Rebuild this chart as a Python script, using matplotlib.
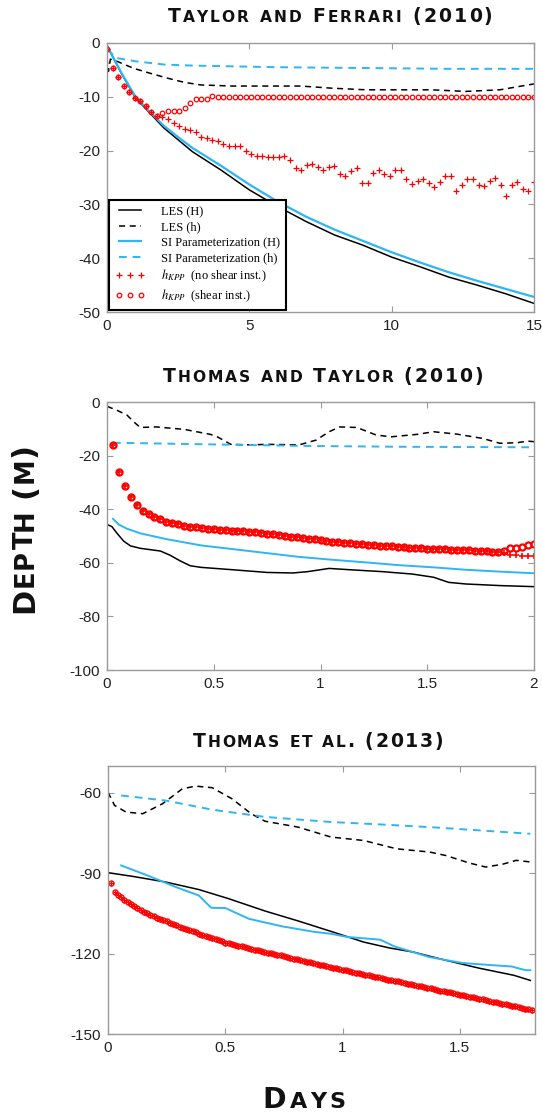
import numpy as np
import matplotlib
matplotlib.use('Agg')
import matplotlib.pyplot as plt
from matplotlib.font_manager import FontProperties

plt.rcParams['font.family'] = 'Liberation Sans'
plt.rcParams['mathtext.fontset'] = 'stix'
plt.rcParams['axes.unicode_minus'] = False

BLUE = '#2DB5F5'
RED = '#FF0000'

# ---------------- Taylor and Ferrari (2010) ----------------
tf_les_H_t = [0, 0.5, 1, 1.5, 2, 2.5, 3, 4, 5, 6, 7, 8, 9, 10, 11, 12, 13, 14, 15]
tf_les_H = [-0.5, -5.6, -10.2, -13.0, -15.8, -18.0, -20.2, -23.6, -27.3, -30.4, -33.2,
            -35.7, -37.6, -39.8, -41.6, -43.5, -45.0, -46.6, -48.4]
tf_si_H = [-0.5, -5.5, -10.0, -12.8, -15.4, -17.5, -19.5, -22.8, -26.3, -29.5, -32.3,
           -34.7, -36.8, -38.9, -40.8, -42.6, -44.2, -45.7, -47.2]
tf_les_h_t = [0, 0.05, 0.12, 0.35, 0.93, 1.5, 2.1, 2.7, 3.3, 4.4, 5.6, 6.8, 7.9, 9.1,
              10.3, 11.4, 12.6, 13.8, 15]
tf_les_h = [-2.8, -5.3, -3.0, -3.4, -4.7, -5.6, -6.5, -7.3, -7.8, -8.0, -8.0, -8.0, -8.4,
            -8.7, -8.7, -8.7, -9.0, -8.7, -7.6]
tf_si_h_t = [0, 0.35, 1, 2, 3, 4, 6, 8, 10, 12, 15]
tf_si_h = [-1.2, -2.8, -3.4, -4.0, -4.2, -4.3, -4.5, -4.6, -4.7, -4.8, -4.8]
tf_kpp_t = np.linspace(0, 15, 78)
tf_kpp_shear = [-1.2, -4.7, -6.4, -8.0, -9.2, -10.2, -10.7, -11.7, -12.9, -13.5,
                -13.0, -12.6, -12.6, -12.6, -12.1, -11.2, -10.4, -10.4, -10.4, -9.9,
                -10.0, -10.0, -10.0, -10.0, -10.0, -10.0, -10.0, -10.0, -10.0, -10.0,
                -10.0, -10.0, -10.0, -10.0, -10.0, -10.0, -10.0, -10.0, -10.0, -10.0,
                -10.0, -10.0, -10.0, -10.0, -10.0, -10.0, -10.0, -10.0, -10.0, -10.0,
                -10.0, -10.0, -10.0, -10.0, -10.0, -10.0, -10.0, -10.0, -10.0, -10.0,
                -10.0, -10.0, -10.0, -10.0, -10.0, -10.0, -10.0, -10.0, -10.0, -10.0,
                -10.0, -10.0, -10.0, -10.0, -10.0, -10.0, -10.0, -10.0]
tf_kpp_noshear = [-1.2, -4.7, -6.4, -8.0, -9.2, -10.2, -10.7, -11.7, -12.9, -13.5,
                  -13.7, -14.2, -14.9, -15.4, -16.0, -16.1, -16.5, -17.4, -17.7, -18.0,
                  -18.2, -18.8, -19.1, -19.1, -19.1, -20.0, -20.6, -21.0, -21.0, -21.1,
                  -21.1, -21.1, -21.0, -21.7, -23.3, -23.6, -22.7, -22.4, -23.0, -23.6,
                  -23.0, -22.9, -24.3, -24.8, -23.7, -23.3, -26.0, -26.0, -24.2, -23.6,
                  -24.3, -24.7, -23.6, -23.6, -25.2, -26.2, -25.6, -25.2, -26.1, -26.8,
                  -25.8, -24.7, -24.7, -27.6, -26.4, -25.3, -25.3, -26.4, -26.6, -25.6,
                  -25.0, -26.4, -28.4, -26.4, -25.8, -27.2, -27.5, -25.8]

# ---------------- Thomas and Taylor (2010) ----------------
tt_les_H_t = [0, 0.023, 0.047, 0.078, 0.11, 0.156, 0.25, 0.296, 0.343, 0.39, 0.44, 0.59,
              0.75, 0.87, 0.94, 1.04, 1.14, 1.29, 1.43, 1.53, 1.6, 1.68, 1.84, 2.0]
tt_les_H = [-45.7, -46.5, -49.0, -51.9, -53.7, -54.6, -55.6, -57.2, -59.3, -61.1, -61.7,
            -62.6, -63.6, -63.8, -63.3, -62.1, -62.6, -63.3, -64.2, -65.4, -67.3, -67.9,
            -68.5, -68.9]
tt_si_H_t = [0.028, 0.055, 0.094, 0.156, 0.28, 0.44, 0.59, 0.75, 0.9, 1.06, 1.22, 1.37,
             1.53, 1.68, 1.84, 2.0]
tt_si_H = [-43.6, -45.7, -47.3, -49.0, -51.2, -53.5, -54.9, -56.4, -57.8, -58.9, -59.9,
           -60.9, -61.7, -62.6, -63.3, -63.9]
tt_les_h_t = [0, 0.047, 0.094, 0.125, 0.156, 0.23, 0.36, 0.48, 0.51, 0.58, 0.67, 0.75,
              0.9, 0.98, 1.04, 1.09, 1.17, 1.26, 1.33, 1.45, 1.53, 1.64, 1.76, 1.84,
              1.92, 1.97, 2.0]
tt_les_h = [-1.6, -3.1, -4.9, -7.4, -9.5, -9.3, -10.2, -12.0, -12.7, -15.8, -16.0, -15.8,
            -16.0, -14.2, -11.1, -9.3, -9.5, -12.3, -13.0, -12.1, -11.1, -12.0, -13.6,
            -15.4, -15.2, -14.6, -14.8]
tt_si_h_t = [0.028, 0.47, 0.94, 1.37, 2.0]
tt_si_h = [-15.2, -15.8, -16.4, -16.7, -16.9]
tt_kpp_t = np.linspace(2 / 72, 2, 72)
tt_kpp_shear = [-16.0, -26.2, -31.5, -35.6, -38.6, -40.5, -41.7, -42.8, -43.6, -44.6,
                -45.2, -45.7, -46.2, -46.5, -46.8, -47.0, -47.3, -47.5, -47.7, -47.8,
                -48.0, -48.2, -48.3, -48.5, -48.6, -48.8, -49.1, -49.4, -49.6, -49.9,
                -50.2, -50.5, -50.8, -51.1, -51.3, -51.6, -51.8, -52.1, -52.3, -52.5,
                -52.7, -52.9, -53.1, -53.3, -53.4, -53.6, -53.7, -53.9, -54.0, -54.2,
                -54.3, -54.4, -54.5, -54.7, -54.8, -54.9, -55.0, -55.1, -55.2, -55.3,
                -55.4, -55.5, -55.6, -55.7, -55.9, -56.0,
                -55.6, -54.6, -54.3, -54.0, -53.3, -52.8]
tt_kpp_noshear = tt_kpp_shear[:66] + [-56.4, -57.0, -57.2, -57.3, -57.4, -57.5]

# ---------------- Thomas et al. (2013) ----------------
te_les_H_t = [0, 0.106, 0.246, 0.387, 0.514, 0.669, 0.81, 0.95, 1.09, 1.2, 1.3, 1.44,
              1.58, 1.73, 1.8]
te_les_H = [-89.8, -91.2, -93.3, -96.1, -99.5, -104.1, -107.8, -111.7, -115.7, -117.9,
            -119.4, -122.5, -125.4, -128.1, -130.0]
te_si_H_t = [0.056, 0.176, 0.29, 0.387, 0.44, 0.5, 0.6, 0.74, 0.88, 0.95, 1.02, 1.16,
             1.22, 1.37, 1.51, 1.65, 1.72, 1.78, 1.8]
te_si_H = [-87.1, -91.1, -95.2, -98.3, -102.9, -103.0, -107.0, -109.8, -111.9, -112.6,
           -113.8, -114.8, -117.3, -121.3, -123.5, -124.4, -124.8, -126.2, -126.2]
te_les_h_t = [0, 0.028, 0.077, 0.148, 0.232, 0.317, 0.373, 0.444, 0.528, 0.61, 0.669,
              0.81, 0.95, 1.09, 1.23, 1.37, 1.44, 1.54, 1.61, 1.68, 1.74, 1.8]
te_les_h = [-59.8, -64.7, -67.2, -67.8, -64.1, -58.5, -57.5, -58.1, -62.2, -67.8, -70.6,
            -72.8, -76.5, -77.8, -80.9, -82.1, -83.4, -86.2, -87.7, -86.7, -85.2, -85.8]
te_si_h_t = [0.056, 0.246, 0.444, 0.669, 0.95, 1.16, 1.37, 1.58, 1.8]
te_si_h = [-61.0, -62.9, -66.3, -69.0, -70.9, -71.8, -72.8, -74.0, -75.3]
te_kpp_t = np.linspace(1 / 72, 130 / 72, 130)
te_kpp = [-93.8, -96.9, -98.2, -99.0, -99.9, -100.7, -101.5, -102.3, -103.0, -103.7,
          -104.4, -105.0, -105.6, -106.1, -106.6, -107.1, -107.6, -108.0, -108.5, -109.0,
          -109.4, -109.9, -110.4, -110.8, -111.3, -111.7, -112.1, -112.6, -113.0, -113.4,
          -113.8, -114.2, -114.6, -115.0, -115.4, -115.9, -116.2, -116.5, -116.8, -117.0,
          -117.3, -117.6, -117.9, -118.2, -118.5, -118.8, -119.0, -119.3, -119.6, -119.9,
          -120.2, -120.5, -120.7, -121.0, -121.3, -121.6, -121.9, -122.2, -122.4, -122.7,
          -123.0, -123.3, -123.6, -123.9, -124.2, -124.4, -124.7, -125.0, -125.3, -125.5,
          -125.8, -126.1, -126.3, -126.6, -126.8, -127.1, -127.3, -127.6, -127.9, -128.1,
          -128.4, -128.6, -128.9, -129.1, -129.4, -129.7, -129.9, -130.2, -130.4, -130.7,
          -130.9, -131.2, -131.5, -131.7, -132.0, -132.2, -132.5, -132.7, -133.0, -133.3,
          -133.5, -133.8, -134.0, -134.3, -134.5, -134.8, -135.1, -135.3, -135.6, -135.8,
          -136.1, -136.3, -136.6, -136.9, -137.1, -137.4, -137.6, -137.9, -138.1, -138.4,
          -138.7, -138.9, -139.2, -139.4, -139.7, -139.9, -140.2, -140.5, -140.7, -141.0]

W, H = 542, 1113
fig = plt.figure(figsize=(W / 100, H / 100), dpi=100)


def small_caps(x_c, y_b, s, big, small, width, rotation=0):
    # fake small caps, letter by letter, spread to a given width (pixels)
    r = fig.canvas.get_renderer()

    def adv(c, size):
        fp = FontProperties(family='DejaVu Sans', weight='bold', size=size)
        w1 = r.get_text_width_height_descent('H' + c + 'H', fp, ismath=False)[0]
        w0 = r.get_text_width_height_descent('HH', fp, ismath=False)[0]
        return w1 - w0

    chars = [(c.upper(), small if c.islower() else big) for c in s]
    advs = [adv(c, sz) for c, sz in chars]
    track = (width - sum(advs)) / (len(chars) - 1)
    pos = -width / 2
    for (c, sz), a in zip(chars, advs):
        if c != ' ':
            if rotation == 0:
                fig.text((x_c + pos) / W, 1 - y_b / H, c, fontsize=sz, fontweight='bold',
                         family='DejaVu Sans', ha='left', va='baseline', color='#111111')
            else:
                fig.text(x_c / W, 1 - (y_b - pos) / H, c, fontsize=sz, fontweight='bold',
                         family='DejaVu Sans', ha='left', va='baseline', rotation=90,
                         rotation_mode='anchor', color='#111111')
        pos += a + track


def style(ax, xlim, ylim, xticks, yticks):
    ax.set_xlim(*xlim)
    ax.set_ylim(*ylim)
    ax.set_xticks(xticks)
    ax.set_yticks(yticks)
    ax.set_xticklabels([('%g' % v) for v in xticks])
    ax.set_yticklabels([('%g' % v) for v in yticks])
    ax.tick_params(direction='in', top=True, right=True, length=4, width=0.8,
                   color='#9a9a9a', labelsize=11, labelcolor='#222222', pad=5)
    for sp in ax.spines.values():
        sp.set_color('#9a9a9a')
        sp.set_linewidth(1.0)


# panel 1
ax1 = fig.add_axes([107 / W, 1 - 312 / H, 427 / W, 269 / H])
ax1.plot(tf_les_H_t, tf_les_H, color='black', lw=1.1, label='LES (H)')
ax1.plot(tf_les_h_t, tf_les_h, color='black', lw=1.1, ls=(0, (4, 3)), label='LES (h)')
ax1.plot(tf_les_H_t, tf_si_H, color=BLUE, lw=1.6, label='SI Parameterization (H)')
ax1.plot(tf_si_h_t, tf_si_h, color=BLUE, lw=1.4, ls=(0, (4, 3)), label='SI Parameterization (h)')
ax1.plot(tf_kpp_t, tf_kpp_noshear, ls='none', marker='+', ms=4, mew=0.9, color=RED,
         label=r'$h_{KPP}$  (no shear inst.)')
ax1.plot(tf_kpp_t, tf_kpp_shear, ls='none', marker='o', ms=3.3, mew=0.9, mfc='none',
         mec=RED, label=r'$h_{KPP}$  (shear inst.)')
style(ax1, (0, 15), (-50, 0), [0, 5, 10, 15], [-50, -40, -30, -20, -10, 0])
leg = ax1.legend(loc='lower left', bbox_to_anchor=(0.005, 0.008), borderaxespad=0,
                 prop=FontProperties(family='Liberation Serif', size=9), numpoints=3,
                 fancybox=False, framealpha=1, edgecolor='black', handlelength=2.4,
                 handletextpad=1.3, labelspacing=0.28, borderpad=0.45)
leg.get_frame().set_linewidth(1.5)

# panel 2
ax2 = fig.add_axes([107 / W, 1 - 670 / H, 427 / W, 268 / H])
ax2.plot(tt_les_H_t, tt_les_H, color='black', lw=1.1)
ax2.plot(tt_les_h_t, tt_les_h, color='black', lw=1.1, ls=(0, (4, 3)))
ax2.plot(tt_si_H_t, tt_si_H, color=BLUE, lw=1.4)
ax2.plot(tt_si_h_t, tt_si_h, color=BLUE, lw=1.4, ls=(0, (4, 3)))
ax2.plot(tt_kpp_t, tt_kpp_noshear, ls='none', marker='+', ms=4.5, mew=1.2, color=RED)
ax2.plot(tt_kpp_t, tt_kpp_shear, ls='none', marker='o', ms=4.4, mew=1.6, mfc='none', mec=RED)
style(ax2, (0, 2), (-100, 0), [0, 0.5, 1, 1.5, 2], [-100, -80, -60, -40, -20, 0])

# panel 3
ax3 = fig.add_axes([108 / W, 1 - 1034 / H, 427 / W, 268 / H])
ax3.plot(te_les_H_t, te_les_H, color='black', lw=1.1)
ax3.plot(te_les_h_t, te_les_h, color='black', lw=1.1, ls=(0, (4, 3)))
ax3.plot(te_si_H_t, te_si_H, color=BLUE, lw=1.4)
ax3.plot(te_si_h_t, te_si_h, color=BLUE, lw=1.4, ls=(0, (4, 3)))
ax3.plot(te_kpp_t, te_kpp, ls='none', marker='+', ms=3.6, mew=0.9, color=RED)
ax3.plot(te_kpp_t, te_kpp, ls='none', marker='o', ms=3.6, mew=1.0, mfc='none', mec=RED)
style(ax3, (0, 1.82), (-150, -50), [0, 0.5, 1, 1.5], [-150, -120, -90, -60])

# titles and axis labels
small_caps(330, 21.7, 'Taylor and Ferrari (2010)', 13.6, 11.2, 325)
small_caps(323, 381.7, 'Thomas and Taylor (2010)', 13.6, 11.2, 320)
small_caps(318, 747.3, 'Thomas et al. (2013)', 13.6, 11.2, 250)
small_caps(33, 528, 'Depth (m)', 22, 18.5, 170, rotation=90)
small_caps(304, 1108, 'Days', 20.5, 16, 83)

fig.savefig('out.png', dpi=100)
